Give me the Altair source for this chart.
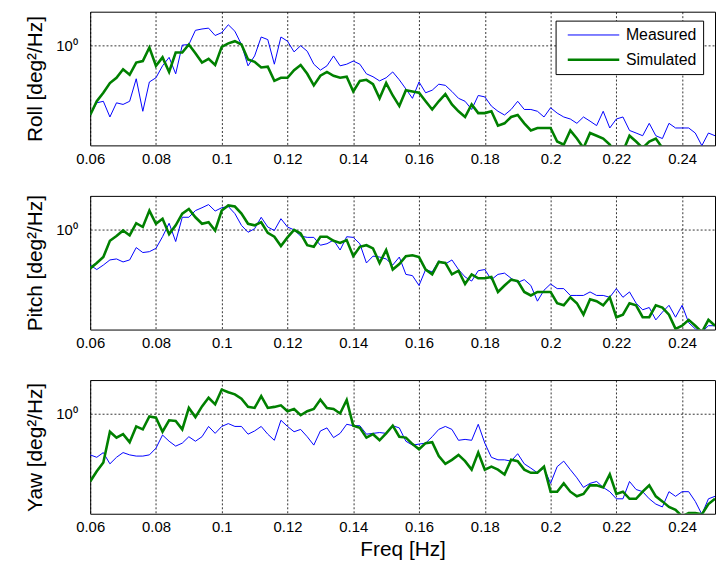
import altair as alt
import pandas as pd

# ---------------- data ----------------
freq = [0.060, 0.062, 0.064, 0.066, 0.068, 0.070, 0.072, 0.074, 0.076, 0.078,
        0.080, 0.082, 0.084, 0.086, 0.088, 0.090, 0.092, 0.094, 0.096, 0.098,
        0.100, 0.102, 0.104, 0.106, 0.108, 0.110, 0.112, 0.114, 0.116, 0.118,
        0.120, 0.122, 0.124, 0.126, 0.128, 0.130, 0.132, 0.134, 0.136, 0.138,
        0.140, 0.142, 0.144, 0.146, 0.148, 0.150, 0.152, 0.154, 0.156, 0.158,
        0.160, 0.162, 0.164, 0.166, 0.168, 0.170, 0.172, 0.174, 0.176, 0.178,
        0.180, 0.182, 0.184, 0.186, 0.188, 0.190, 0.192, 0.194, 0.196, 0.198,
        0.200, 0.202, 0.204, 0.206, 0.208, 0.210, 0.212, 0.214, 0.216, 0.218,
        0.220, 0.222, 0.224, 0.226, 0.228, 0.230, 0.232, 0.234, 0.236, 0.238,
        0.240, 0.242, 0.244, 0.246, 0.248, 0.250]

roll_measured = [0.30, 0.37, 0.38, 0.29, 0.37, 0.36, 0.38, 0.56, 0.32, 0.53,
                 0.57, 0.70, 0.81, 0.61, 1.00, 1.01, 1.29, 1.32, 1.34, 1.18,
                 1.24, 1.42, 1.27, 1.01, 0.70, 0.83, 1.15, 1.10, 0.72, 1.15,
                 1.07, 0.89, 0.99, 0.90, 0.72, 0.65, 0.70, 0.83, 0.70, 0.72,
                 0.76, 0.72, 0.61, 0.58, 0.54, 0.57, 0.63, 0.55, 0.47, 0.40,
                 0.53, 0.44, 0.46, 0.51, 0.50, 0.45, 0.40, 0.38, 0.33, 0.42,
                 0.41, 0.35, 0.32, 0.30, 0.33, 0.38, 0.33, 0.33, 0.32, 0.29,
                 0.34, 0.31, 0.29, 0.28, 0.26, 0.29, 0.27, 0.25, 0.32, 0.24,
                 0.28, 0.29, 0.23, 0.22, 0.21, 0.26, 0.21, 0.20, 0.26, 0.24,
                 0.24, 0.24, 0.22, 0.177, 0.22, 0.21]
roll_simulated = [0.30, 0.38, 0.44, 0.52, 0.57, 0.66, 0.60, 0.74, 0.76, 0.96,
                  0.70, 0.81, 0.63, 0.88, 0.88, 1.01, 0.87, 0.74, 0.79, 0.71,
                  0.97, 1.03, 1.07, 1.01, 0.78, 0.75, 0.68, 0.69, 0.54, 0.57,
                  0.57, 0.65, 0.71, 0.61, 0.50, 0.59, 0.63, 0.59, 0.57, 0.58,
                  0.45, 0.54, 0.55, 0.51, 0.40, 0.52, 0.42, 0.35, 0.46, 0.45,
                  0.44, 0.38, 0.33, 0.38, 0.43, 0.36, 0.32, 0.29, 0.36, 0.31,
                  0.31, 0.32, 0.25, 0.26, 0.29, 0.30, 0.26, 0.23, 0.24, 0.24,
                  0.24, 0.19, 0.18, 0.23, 0.20, 0.17, 0.22, 0.21, 0.20, 0.18,
                  0.15, 0.16, 0.21, 0.19, 0.17, 0.19, 0.20, 0.17, 0.17, 0.15,
                  0.14, 0.15, 0.14, 0.15, 0.13, 0.14]

pitch_measured = [0.54, 0.50, 0.54, 0.59, 0.60, 0.57, 0.59, 0.73, 0.67, 0.68,
                  0.72, 0.88, 1.11, 0.81, 1.23, 1.23, 1.38, 1.45, 1.53, 1.37,
                  1.45, 1.48, 1.31, 1.07, 0.95, 1.01, 1.23, 1.04, 0.98, 1.20,
                  1.04, 0.99, 0.89, 0.87, 0.87, 0.76, 0.78, 0.83, 0.70, 0.88,
                  0.87, 0.78, 0.56, 0.63, 0.62, 0.60, 0.54, 0.62, 0.46, 0.45,
                  0.38, 0.50, 0.48, 0.58, 0.55, 0.59, 0.50, 0.44, 0.41, 0.49,
                  0.50, 0.42, 0.46, 0.47, 0.43, 0.40, 0.42, 0.38, 0.29, 0.35,
                  0.39, 0.36, 0.36, 0.32, 0.32, 0.32, 0.34, 0.32, 0.32, 0.31,
                  0.36, 0.31, 0.34, 0.28, 0.25, 0.26, 0.21, 0.24, 0.27, 0.22,
                  0.27, 0.20, 0.18, 0.17, 0.19, 0.19]
pitch_simulated = [0.51, 0.56, 0.62, 0.82, 0.89, 0.98, 0.90, 1.11, 1.04, 1.38,
                   1.10, 1.20, 0.92, 1.07, 1.31, 1.42, 1.23, 1.10, 1.13, 0.98,
                   1.38, 1.51, 1.48, 1.31, 1.10, 1.07, 1.13, 0.94, 0.88, 0.75,
                   0.87, 0.99, 0.93, 0.76, 0.74, 0.88, 0.88, 0.82, 0.79, 0.83,
                   0.63, 0.74, 0.76, 0.72, 0.56, 0.70, 0.50, 0.55, 0.63, 0.64,
                   0.62, 0.50, 0.46, 0.57, 0.56, 0.46, 0.49, 0.39, 0.46, 0.43,
                   0.43, 0.44, 0.34, 0.38, 0.42, 0.41, 0.34, 0.32, 0.34, 0.34,
                   0.34, 0.28, 0.27, 0.31, 0.28, 0.23, 0.30, 0.29, 0.27, 0.31,
                   0.22, 0.23, 0.28, 0.27, 0.22, 0.22, 0.27, 0.26, 0.23, 0.18,
                   0.19, 0.21, 0.19, 0.17, 0.21, 0.19]

yaw_measured = [0.49, 0.47, 0.51, 0.42, 0.47, 0.51, 0.49, 0.48, 0.48, 0.49,
                0.55, 0.69, 0.62, 0.57, 0.60, 0.67, 0.62, 0.67, 0.80, 0.71,
                0.80, 0.84, 0.80, 0.80, 0.70, 0.74, 0.80, 0.70, 0.63, 0.89,
                0.80, 0.73, 0.76, 0.67, 0.58, 0.74, 0.78, 0.66, 0.71, 0.83,
                0.81, 0.81, 0.70, 0.71, 0.72, 0.71, 0.81, 0.78, 0.62, 0.58,
                0.59, 0.60, 0.67, 0.76, 0.80, 0.76, 0.63, 0.64, 0.63, 0.83,
                0.60, 0.47, 0.45, 0.45, 0.44, 0.50, 0.42, 0.39, 0.36, 0.39,
                0.30, 0.40, 0.44, 0.38, 0.33, 0.28, 0.30, 0.31, 0.28, 0.26,
                0.23, 0.23, 0.31, 0.27, 0.26, 0.23, 0.21, 0.20, 0.26, 0.24,
                0.26, 0.26, 0.22, 0.176, 0.23, 0.24]
yaw_simulated = [0.31, 0.37, 0.43, 0.73, 0.66, 0.70, 0.61, 0.80, 0.76, 0.95,
                 0.93, 0.73, 0.89, 0.88, 0.76, 1.10, 0.94, 1.13, 1.31, 1.17,
                 1.51, 1.44, 1.39, 1.29, 1.12, 1.10, 1.35, 1.10, 1.12, 1.15,
                 1.04, 1.08, 0.97, 1.04, 1.08, 1.27, 1.10, 1.08, 1.00, 1.26,
                 0.81, 0.78, 0.66, 0.70, 0.63, 0.71, 0.81, 0.67, 0.66, 0.59,
                 0.54, 0.60, 0.61, 0.48, 0.42, 0.45, 0.49, 0.44, 0.38, 0.51,
                 0.38, 0.40, 0.38, 0.35, 0.45, 0.44, 0.38, 0.36, 0.36, 0.40,
                 0.26, 0.26, 0.30, 0.26, 0.24, 0.25, 0.29, 0.29, 0.28, 0.35,
                 0.25, 0.26, 0.23, 0.23, 0.26, 0.29, 0.24, 0.22, 0.20, 0.19,
                 0.17, 0.18, 0.18, 0.176, 0.21, 0.23]

series_names = ["Measured", "Simulated"]
series_colors = ["#0000ff", "#008000"]
series_widths = [1.0, 2.6]
x_ticks = [0.06, 0.08, 0.10, 0.12, 0.14, 0.16, 0.18, 0.20, 0.22, 0.24]
y_ticks = [1.0]
x_domain = [0.06, 0.25]
y_domain = [0.1778, 1.778]

FONT = "Liberation Sans"
W, H = 631, 135


def panel(meas, sim, ytitle, show_legend, show_xtitle):
    n = len(freq)
    df = pd.DataFrame({
        "Freq": freq + freq,
        "PSD": meas + sim,
        "Series": [series_names[0]] * n + [series_names[1]] * n,
    })
    if show_legend:
        legend = alt.Legend(
            title=None, orient="none", legendX=470, legendY=9,
            direction="vertical", fillColor="white", strokeColor="black",
            padding=6, rowPadding=7, symbolType="M-0.4,0H6.1", symbolSize=256,
            labelOffset=46, labelFontSize=16, labelFont=FONT,
            labelColor="black", symbolOpacity=1,
        )
    else:
        legend = None
    x_axis = alt.Axis(
        values=x_ticks, format="~g", grid=True, ticks=False, domain=False,
        labelPadding=6, labelFlush=False, labelOverlap=False,
        title="Freq [Hz]" if show_xtitle else None,
        titleY=42, titleBaseline="alphabetic",
    )
    y_axis = alt.Axis(
        values=y_ticks, labelExpr="'10⁰'", grid=True, ticks=False,
        domain=False, labelPadding=13, title=ytitle, titleX=-49,
        titleY=H / 2, titleAngle=270, titleAlign="center",
        titleBaseline="alphabetic",
    )
    return alt.Chart(df).mark_line(clip=True).encode(
        x=alt.X("Freq:Q", scale=alt.Scale(domain=x_domain, nice=False, zero=False), axis=x_axis),
        y=alt.Y("PSD:Q", scale=alt.Scale(type="log", domain=y_domain, nice=False), axis=y_axis),
        color=alt.Color("Series:N", scale=alt.Scale(domain=series_names, range=series_colors), legend=legend),
        strokeWidth=alt.StrokeWidth("Series:N", scale=alt.Scale(domain=series_names, range=series_widths), legend=legend),
        order=alt.Order("Freq:Q"),
    ).properties(width=W, height=H)


p1 = panel(roll_measured, roll_simulated, "Roll [deg²/Hz]", True, False)
p2 = panel(pitch_measured, pitch_simulated, "Pitch [deg²/Hz]", False, False)
p3 = panel(yaw_measured, yaw_simulated, "Yaw [deg²/Hz]", False, True)

chart = alt.vconcat(p1, p2, p3, spacing=51, bounds="flush").resolve_scale(
    color="independent", strokeWidth="independent"
).resolve_legend(color="independent", strokeWidth="independent").properties(
    padding={"left": 16, "top": 0, "right": 0, "bottom": 0}
).configure(
    font=FONT,
).configure_view(
    stroke="black", strokeWidth=1,
).configure_axis(
    labelFont=FONT, titleFont=FONT, labelFontSize=15, titleFontSize=21,
    titleFontWeight="normal", labelColor="black", titleColor="black",
    gridColor="black", gridOpacity=1, gridWidth=0.8, gridDash=[2, 2],
)

chart.save("out.html", embed_options={"renderer": "svg", "actions": False})
